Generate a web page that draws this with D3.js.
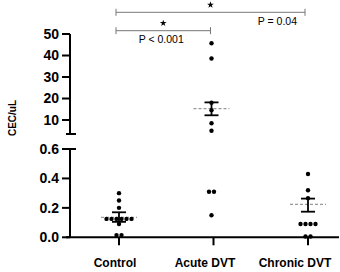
<!DOCTYPE html>
<html><head><meta charset="utf-8">
<script src="https://cdn.jsdelivr.net/npm/d3@7"></script>
<style>html,body{margin:0;padding:0;background:#fff}svg{display:block}</style>
</head><body><svg id="c" width="340" height="272"></svg>
<script>
const categories = ["Control", "Acute DVT", "Chronic DVT"];
const controlValues = [0.30, 0.25, 0.20, 0.125, 0.125, 0.125, 0.125, 0.125, 0.125, 0.09, 0.015, 0.015];
const acuteValues = [45.7, 38.6, 18.0, 14.6, 8.5, 5.0, 0.31, 0.31, 0.15];
const chronicValues = [0.43, 0.32, 0.265, 0.09, 0.09, 0.09, 0.09, 0.005, 0.005];
const means = [0.136, 15.3, 0.224];
const semLow = [0.105, 12.2, 0.174];
const semHigh = [0.17, 18.2, 0.263];
const upperTicks = [10, 20, 30, 40, 50];
const lowerTicks = [0.0, 0.2, 0.4, 0.6];
const yLabel = "CEC/uL";
const comparisons = [
  {from: "Control", to: "Acute DVT", label: "P < 0.001"},
  {from: "Control", to: "Chronic DVT", label: "P = 0.04"}
];
const series = [controlValues, acuteValues, chronicValues];

const svg = d3.select("#c");
const font = "'Liberation Sans', Arial, sans-serif";
const axisX = 70;
const x = d3.scalePoint().domain(categories).range([119, 308]);
const xLab = d3.scalePoint().domain(categories).range([115, 295]);
const yUp = d3.scaleLinear().domain([3.5, 50]).range([134, 34]);
const yLo = d3.scaleLinear().domain([0, 0.6]).range([237.3, 149]);
const y = v => v > 0.6 ? yUp(v) : yLo(v);

// axes
const g = svg.append("g").attr("stroke", "#000").attr("stroke-width", 2).attr("fill", "none");
g.append("line").attr("x1", axisX).attr("x2", axisX).attr("y1", yUp(50)).attr("y2", yUp.range()[0]);
g.append("line").attr("x1", axisX - 4).attr("x2", axisX + 6).attr("y1", yUp.range()[0]).attr("y2", yUp.range()[0]);
g.append("line").attr("x1", axisX).attr("x2", axisX).attr("y1", yLo(0.6)).attr("y2", yLo(0));
g.append("line").attr("x1", axisX).attr("x2", axisX + 6).attr("y1", yLo(0.6)).attr("y2", yLo(0.6));
g.append("line").attr("x1", axisX - 4).attr("x2", 339).attr("y1", yLo(0)).attr("y2", yLo(0));
upperTicks.forEach(t => g.append("line").attr("x1", axisX - 8).attr("x2", axisX).attr("y1", yUp(t)).attr("y2", yUp(t)));
lowerTicks.forEach(t => g.append("line").attr("x1", axisX - 8).attr("x2", axisX).attr("y1", yLo(t)).attr("y2", yLo(t)));
categories.forEach(c => g.append("line").attr("x1", x(c)).attr("x2", x(c)).attr("y1", yLo(0)).attr("y2", yLo(0) + 8));

const tl = svg.append("g").attr("font-family", font).attr("font-weight", "bold").attr("font-size", 14)
  .attr("text-anchor", "end").attr("fill", "#000");
upperTicks.forEach(t => tl.append("text").attr("x", axisX - 11).attr("y", yUp(t)).attr("dy", "0.35em").text(d3.format("d")(t)));
lowerTicks.forEach(t => tl.append("text").attr("x", axisX - 11).attr("y", yLo(t)).attr("dy", "0.35em").text(d3.format(".1f")(t)));

svg.append("text").attr("font-family", font).attr("font-weight", "bold").attr("font-size", 10)
  .attr("text-anchor", "middle").attr("transform", "translate(16,118) rotate(-90)").text(yLabel);

svg.append("g").attr("font-family", font).attr("font-weight", "bold").attr("font-size", 12)
  .attr("text-anchor", "middle").selectAll("text").data(categories).join("text")
  .attr("x", d => xLab(d)).attr("y", 267).text(d => d);

// mean lines
categories.forEach((c, i) => {
  const cx = x(c) - (i === 1 ? 2 : 0);
  svg.append("line").attr("x1", cx - 18).attr("x2", cx + 18).attr("y1", y(means[i])).attr("y2", y(means[i]))
    .attr("stroke", "#999").attr("stroke-width", 1.2).attr("stroke-dasharray", "3,2");
});

// dots with centered dodge
const s = 5;
series.forEach((vals, i) => {
  const cx = x(categories[i]) - (i === 1 ? 2 : 0);
  const pts = vals.map(v => ({v, py: y(v)}));
  const groups = d3.groups(pts, p => Math.round(p.py / 3));
  const placed = [];
  groups.forEach(([k, arr]) => {
    arr.forEach((p, j) => placed.push({px: cx + (j - (arr.length - 1) / 2) * s, py: p.py}));
  });
  svg.append("g").selectAll("circle").data(placed).join("circle")
    .attr("cx", d => d.px).attr("cy", d => d.py).attr("r", 2.2).attr("fill", "#000");
});

// SEM error bars
categories.forEach((c, i) => {
  const cx = x(c) - (i === 1 ? 2 : 0);
  const e = svg.append("g").attr("stroke", "#000").attr("stroke-width", 1.8);
  e.append("line").attr("x1", cx).attr("x2", cx).attr("y1", y(semLow[i])).attr("y2", y(semHigh[i]));
  e.append("line").attr("x1", cx - 7).attr("x2", cx + 7).attr("y1", y(semLow[i])).attr("y2", y(semLow[i]));
  e.append("line").attr("x1", cx - 7).attr("x2", cx + 7).attr("y1", y(semHigh[i])).attr("y2", y(semHigh[i]));
});

// significance brackets
const bracketY = [30.7, 12.3];
comparisons.forEach((cmp, i) => {
  const x1 = x(cmp.from) - 3, x2 = x(cmp.to) - 3;
  const by = bracketY[i];
  const b = svg.append("g").attr("stroke", "#777").attr("stroke-width", 1);
  b.append("line").attr("x1", x1).attr("x2", x2).attr("y1", by).attr("y2", by);
  b.append("line").attr("x1", x1).attr("x2", x1).attr("y1", by - 3.5).attr("y2", by + 3.5);
  b.append("line").attr("x1", x2).attr("x2", x2).attr("y1", by - 3.5).attr("y2", by + 3.5);
  svg.append("path").attr("d", d3.symbol(d3.symbolStar, 14)())
    .attr("transform", `translate(${(x1 + x2) / 2},${by - 7.5})`).attr("fill", "#000");
  const t = svg.append("text").attr("font-family", font).attr("font-size", 10.5).attr("fill", "#000");
  if (i === 0) t.attr("x", (x1 + x2) / 2 - 2).attr("y", by + 12.5).attr("text-anchor", "middle").text(cmp.label);
  else t.attr("x", x2 - 8).attr("y", by + 12.5).attr("text-anchor", "end").text(cmp.label);
});
</script></body></html>
